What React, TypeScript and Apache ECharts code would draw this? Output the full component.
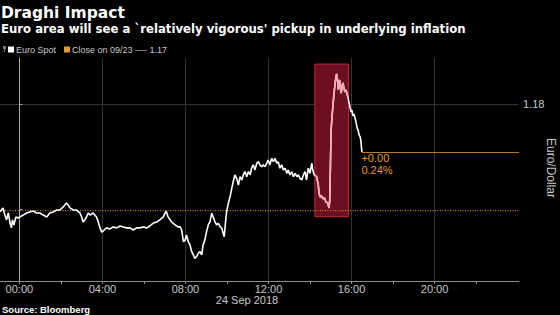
import React, { useEffect, useRef } from "react";
import * as echarts from "echarts";

// minutes after 00:00 on 24 Sep 2018 (negative = 23 Sep)
const minutes = [
  -56, -47, -42, -37, -32, -27, -23, -20, -16, -10, -3, 1, 11, 21, 30, 40, 50, 59, 69, 79,
  88, 98, 108, 117, 127, 136, 141, 146, 156, 165, 175, 180, 184, 189, 194, 199, 204, 213, 223, 228,
  233, 238, 242, 252, 262, 271, 281, 291, 300, 310, 320, 329, 339, 348, 358, 368, 377, 387, 397, 406,
  416, 424, 430, 440, 450, 459, 464, 469, 474, 479, 483, 488, 493, 498, 503, 507, 512, 517, 522, 527,
  531, 536, 541, 546, 551, 556, 560, 565, 570, 575, 580, 585, 589, 592, 596, 599, 604, 609, 614, 618,
  623, 628, 633, 638, 643, 647, 652, 657, 662, 667, 671, 676, 681, 686, 691, 695, 700, 705, 710, 715,
  719, 724, 729, 734, 739, 744, 748, 753, 758, 763, 768, 773, 777, 782, 787, 792, 797, 802, 806, 811,
  816, 821, 826, 830, 835, 840, 845, 848, 852, 859, 864, 866, 869, 873, 878, 882, 886, 891, 895, 897,
  899, 901, 904, 907, 909, 912, 915, 917, 920, 922, 925, 927, 930, 933, 935, 938, 941, 944, 947, 950,
  953, 956, 959, 961, 964, 967, 970, 973, 976, 979, 982, 985, 987, 990,
];

const euroSpot = [
  1.17487, 1.17505, 1.17471, 1.17448, 1.17481, 1.17433, 1.1741, 1.17448, 1.17424, 1.17462,
  1.17457, 1.17462, 1.17471, 1.17481, 1.17486, 1.1749, 1.17481, 1.17481, 1.17471, 1.17462,
  1.17481, 1.17486, 1.17495, 1.17495, 1.1751, 1.17529, 1.17519, 1.17505, 1.17495, 1.17495,
  1.17481, 1.17462, 1.17438, 1.17448, 1.17462, 1.17481, 1.17471, 1.17481, 1.17462, 1.17438,
  1.1741, 1.1739, 1.17395, 1.1741, 1.17405, 1.17414, 1.1741, 1.17419, 1.17414, 1.1741,
  1.1741, 1.174, 1.1741, 1.1741, 1.17414, 1.1741, 1.17419, 1.17433, 1.17438, 1.17448,
  1.17462, 1.1749, 1.17462, 1.17438, 1.17424, 1.17414, 1.17416, 1.174, 1.17344, 1.17352,
  1.17376, 1.17344, 1.17329, 1.17297, 1.17281, 1.17265, 1.17273, 1.17289, 1.17297, 1.17281,
  1.17329, 1.17352, 1.17392, 1.17424, 1.1744, 1.1748, 1.17463, 1.1744, 1.17424, 1.17432,
  1.17416, 1.17408, 1.17384, 1.17368, 1.1744, 1.17487, 1.17527, 1.17559, 1.17599, 1.1763,
  1.17662, 1.17646, 1.17614, 1.17654, 1.17638, 1.17662, 1.17678, 1.17654, 1.17678, 1.17662,
  1.17694, 1.1771, 1.17686, 1.17718, 1.17725, 1.1771, 1.17701, 1.1771, 1.17701, 1.17718,
  1.17733, 1.1771, 1.17741, 1.17725, 1.17741, 1.17718, 1.17725, 1.17694, 1.1771, 1.17686,
  1.17694, 1.1767, 1.17686, 1.17662, 1.17678, 1.17654, 1.1767, 1.17654, 1.17662, 1.17646,
  1.17638, 1.17662, 1.17678, 1.17638, 1.17694, 1.1767, 1.17718, 1.17686, 1.17662, 1.17654,
  1.17614, 1.17576, 1.17557, 1.17562, 1.17548, 1.17552, 1.17533, 1.17529, 1.17505, 1.17543,
  1.1771, 1.17876, 1.17948, 1.18005, 1.18043, 1.1809, 1.18129, 1.18143, 1.18105, 1.18067,
  1.18114, 1.181, 1.18052, 1.18086, 1.181, 1.18076, 1.18057, 1.18067, 1.18048, 1.18029,
  1.18005, 1.17981, 1.17962, 1.17971, 1.17943, 1.17952, 1.17933, 1.17914, 1.17886, 1.17876,
  1.17852, 1.17843, 1.17824, 1.17771,
];

const closePrev = 1.17492;
const closeLabel = "Close on 09/23 ---- 1.17";
const seriesLabel = "Euro Spot";
const changeLines = ["+0.00", "0.24%"];

// highlighted window (Draghi speech)
const highlightFrom = 854;
const highlightTo = 951;
const highlightHigh = 1.1819;
const highlightLow = 1.17463;

const hourTicks = [0, 240, 480, 720, 960, 1200];
const hourLabels = ["00:00", "04:00", "08:00", "12:00", "16:00", "20:00"];
const twoHourTicks = [0, 120, 240, 360, 480, 600, 720, 840, 960, 1080, 1200, 1320];
const yTicks = [1.175, 1.18];
const yLabels = [1.18];

const titleText = "Draghi Impact";
const subtitleText = "Euro area will see a `relatively vigorous' pickup in underlying inflation";
const dateText = "24 Sep 2018";
const sourceText = "Source: Bloomberg";
const yName = "Euro/Dollar";

const X_MIN = -56;
const X_MAX = 1444;
const Y_MIN = 1.17157;
const Y_MAX = 1.18219;

const ORANGE = "#e59a2b";
const PINK = "#f5a9b8";
const TEXT = "#c8c8c8";
const GRID = "#333333";
const AXIS = "#8c8c8c";
const FONT = "'Liberation Sans', Arial, sans-serif";
const BOLD_FONT = "'DejaVu Sans', sans-serif";

export default function App() {
  const ref = useRef<HTMLDivElement>(null);

  useEffect(() => {
    if (!ref.current) return;
    const chart = echarts.init(ref.current, null, { renderer: "svg" });
    const spot = minutes.map((m, i) => [m, euroSpot[i]]);
    const highlighted = spot.filter((p) => p[0] >= 852 && p[0] <= 950);
    const last = spot[spot.length - 1];
    const fmtHour = (v: number) => {
      const i = hourTicks.indexOf(Math.round(v));
      return i >= 0 ? hourLabels[i] : "";
    };

    chart.setOption({
      animation: false,
      backgroundColor: "#000",
      grid: { left: 0, right: 41, top: 58, bottom: 34, containLabel: false, outerBoundsMode: "none" },
      legend: {
        left: 8,
        top: 45,
        icon: "rect",
        itemWidth: 6,
        itemHeight: 6,
        itemGap: 8,
        selectedMode: false,
        padding: 0,
        textStyle: { color: TEXT, fontSize: 9, fontFamily: FONT, padding: [0, 0, 0, -3] },
        data: [
          { name: seriesLabel, itemStyle: { color: "#ffffff" } },
          { name: closeLabel, itemStyle: { color: ORANGE } },
        ],
      },
      xAxis: [
        {
          type: "value",
          min: X_MIN,
          max: X_MAX,
          position: "bottom",
          axisLine: { show: true, lineStyle: { color: AXIS, width: 1 } },
          axisTick: { show: true, customValues: twoHourTicks, length: 3, lineStyle: { color: AXIS } },
          axisLabel: {
            customValues: hourTicks,
            formatter: fmtHour,
            color: TEXT,
            fontSize: 11,
            fontFamily: FONT,
            margin: 2,
          },
          splitLine: { show: false },
        },
        {
          type: "value",
          min: X_MIN,
          max: X_MAX,
          position: "top",
          axisLine: { show: false },
          axisTick: { show: false, customValues: hourTicks },
          axisLabel: { show: false },
          splitLine: { show: true, lineStyle: { color: GRID, width: 1 } },
        },
      ],
      yAxis: [
        {
          type: "value",
          position: "right",
          min: Y_MIN,
          max: Y_MAX,
          axisLine: { show: true, lineStyle: { color: "#a8a8a8", width: 1 } },
          axisTick: { show: true, customValues: yTicks, length: 3, lineStyle: { color: "#a8a8a8" } },
          axisLabel: {
            customValues: yLabels,
            formatter: (v: number) => v.toFixed(2),
            color: TEXT,
            fontSize: 11,
            fontFamily: FONT,
            margin: 4,
          },
          splitLine: { show: false },
        },
        {
          type: "value",
          position: "left",
          min: Y_MIN,
          max: Y_MAX,
          axisLine: { show: false },
          axisTick: { show: false, customValues: yLabels },
          axisLabel: { show: false },
          splitLine: { show: true, lineStyle: { color: GRID, width: 1 } },
        },
      ],
      series: [
        {
          name: seriesLabel,
          type: "line",
          data: spot,
          showSymbol: false,
          symbol: "none",
          lineStyle: { color: "#ffffff", width: 1.6 },
          itemStyle: { color: "#ffffff" },
          z: 2,
          markArea: {
            silent: true,
            itemStyle: { color: "#6c0f1f", borderColor: "#c4263c", borderWidth: 1 },
            data: [[{ xAxis: highlightFrom, yAxis: highlightHigh }, { xAxis: highlightTo, yAxis: highlightLow }]],
          },
          markLine: {
            silent: true,
            symbol: ["none", "none"],
            label: { show: false },
            lineStyle: { color: ORANGE, width: 1, type: "solid", opacity: 0.8 },
            data: [
              [
                { coord: [last[0], last[1]] },
                { coord: [X_MAX, last[1]] },
              ],
            ],
          },
          markPoint: {
            silent: true,
            symbol: "circle",
            symbolSize: 1,
            itemStyle: { color: "rgba(0,0,0,0)" },
            data: [{ coord: [last[0], last[1]] }],
            label: {
              show: true,
              formatter: changeLines.join("\n"),
              position: [0, 1],
              color: ORANGE,
              fontSize: 11,
              lineHeight: 11.5,
              fontFamily: FONT,
            },
          },
        },
        {
          name: "highlight",
          type: "line",
          data: highlighted,
          showSymbol: false,
          symbol: "none",
          lineStyle: { color: PINK, width: 1.6 },
          itemStyle: { color: PINK },
          z: 3,
        },
        {
          name: closeLabel,
          type: "line",
          data: [[X_MIN, closePrev], [X_MAX, closePrev]],
          showSymbol: false,
          symbol: "none",
          itemStyle: { color: ORANGE },
          lineStyle: { color: ORANGE, width: 1, type: [1, 1.5] },
          z: 1,
        },
      ],
      graphic: [
        {
          type: "text",
          x: 1,
          y: 12.5,
          style: { text: titleText, fill: "#ffffff", font: `bold 15.5px ${BOLD_FONT}`, align: "left", verticalAlign: "middle" },
        },
        {
          type: "text",
          x: 1,
          y: 29,
          style: { text: subtitleText, fill: "#ffffff", font: `bold 11.7px ${BOLD_FONT}`, align: "left", verticalAlign: "middle" },
        },
        {
          type: "text",
          x: 247,
          y: 300,
          style: { text: dateText, fill: TEXT, font: `11px ${FONT}`, align: "center", verticalAlign: "middle" },
        },
        {
          type: "text",
          x: 2,
          y: 309.5,
          style: { text: sourceText, fill: "#ffffff", font: `bold 9.5px ${FONT}`, align: "left", verticalAlign: "middle" },
        },
        {
          type: "text",
          x: 551,
          y: 168,
          rotation: -Math.PI / 2,
          style: { text: yName, fill: TEXT, font: `12px ${FONT}`, align: "center", verticalAlign: "middle" },
        },
        { type: "rect", shape: { x: 3, y: 46, width: 3, height: 3 }, style: { fill: "#777" } },
        { type: "line", shape: { x1: 4.5, y1: 49, x2: 4.5, y2: 52 }, style: { stroke: "#777", lineWidth: 1 } },
      ],
    });

    return () => chart.dispose();
  }, []);

  return (
    <div
      ref={ref}
      style={{ width: 560, height: 315, position: "fixed", left: 0, top: 0, background: "#000" }}
    />
  );
}
